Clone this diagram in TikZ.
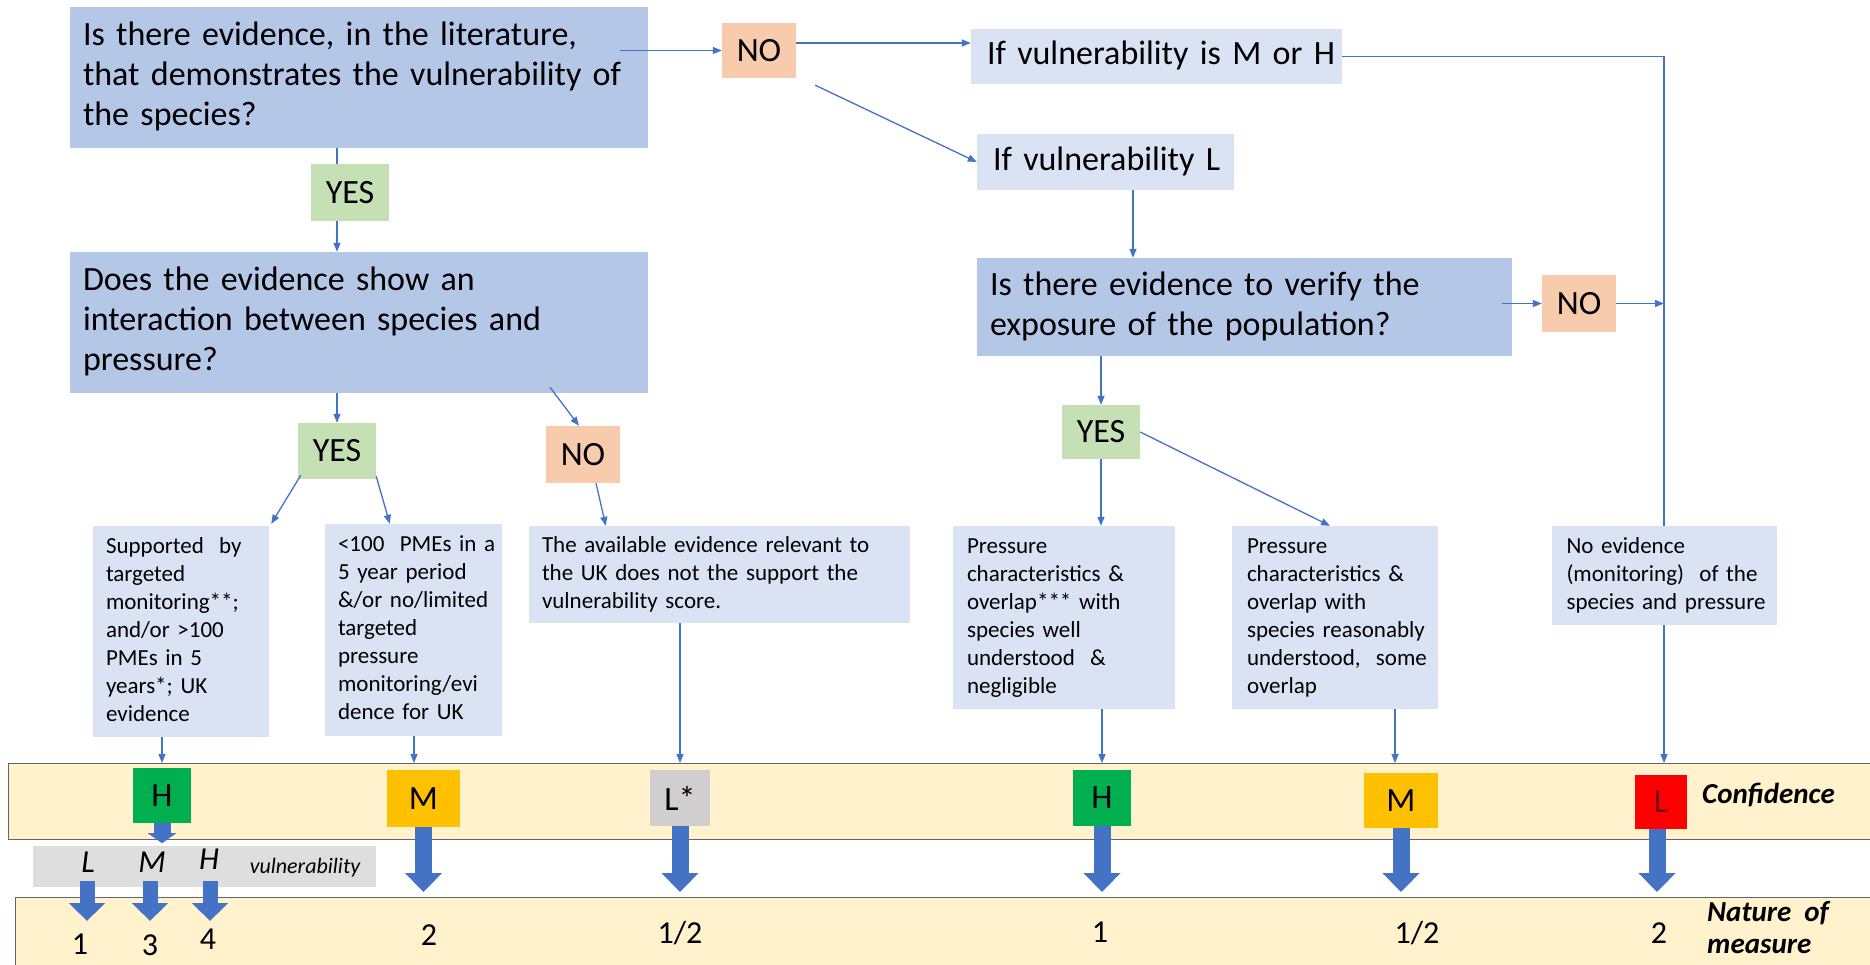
\documentclass[tikz,border=0pt]{standalone}
\usepackage{fontspec}
\setmainfont{Carlito}
\usetikzlibrary{arrows.meta,calc}
\definecolor{qblue}{HTML}{B4C7E7}
\definecolor{lblue}{HTML}{DAE3F3}
\definecolor{yesg}{HTML}{C5E0B4}
\definecolor{noo}{HTML}{F8CBAD}
\definecolor{lnc}{HTML}{4472C4}
\definecolor{bandc}{HTML}{FFF2CC}
\definecolor{bandb}{HTML}{5B6573}
\definecolor{hg}{HTML}{00B050}
\definecolor{myel}{HTML}{FFC000}
\definecolor{lr}{HTML}{FF0000}
\definecolor{ltxt}{HTML}{7A0A0A}
\definecolor{lsg}{HTML}{D0CECE}
\definecolor{vg}{HTML}{DEDEDE}
\newcommand{\bigtxt}{\fontsize{34}{40}\selectfont}
\newcommand{\smtxt}{\fontsize{23}{28}\selectfont}
\newcommand{\mylines}[1]{\begin{tabular}{@{}l@{}}#1\end{tabular}}
\begin{document}
\begin{tikzpicture}[x=1pt,y=-1pt,
  conn/.style={draw=lnc, line width=1.3pt, -{Triangle[length=9pt,width=7pt]}},
  plain/.style={draw=lnc, line width=1.3pt},
  qbox/.style={fill=qblue, inner xsep=13pt, inner ysep=0pt, align=left, font=\bigtxt},
  ibox/.style={fill=lblue, inner xsep=13pt, inner ysep=0pt, align=left, font=\smtxt},
  yesbox/.style={fill=yesg, inner sep=0pt, font=\bigtxt, minimum width=78pt, minimum height=56pt},
  nobox/.style={fill=noo, inner sep=0pt, font=\bigtxt, minimum width=74pt, minimum height=56pt},
  lvl/.style={inner sep=0pt, font=\bigtxt, minimum height=56pt},
  band/.style={fill=bandc, draw=bandb, line width=1.3pt, inner sep=0pt, anchor=north west},
  blk/.style={draw=lnc, line width=17pt, -{Triangle[length=19pt,width=36pt]}},
  blkS/.style={draw=lnc, line width=17pt, -{Triangle[length=10pt,width=28pt]}},
  blkV/.style={draw=lnc, line width=15pt, -{Triangle[length=18pt,width=35pt]}},
  num/.style={font=\fontsize{32}{38}\selectfont, inner sep=0pt},
  vlet/.style={font=\fontsize{32}{38}\selectfont\itshape, inner sep=0pt},
  lbl/.style={font=\fontsize{29}{34}\selectfont\bfseries\itshape, inner sep=0pt, anchor=west},
]
\useasboundingbox (0,0) rectangle (1870,964);
\fill[white] (0,0) rectangle (1870,964);

% bands
\node[band, minimum width=1880pt, minimum height=76pt] (conf) at (8,763) {};
\node[band, minimum width=1880pt, minimum height=80pt] (nat) at (15,897) {};
\node[fill=vg, minimum width=343pt, minimum height=41pt, inner sep=0pt, anchor=north west] (vuln) at (33,846) {};

% question boxes
\node[qbox, minimum width=578pt, minimum height=141pt, text width=552pt] (box1) at (359,77.5)
  {\mylines{Is there evidence, in the literature,\\that demonstrates the vulnerability of\\the species?}};
\node[qbox, minimum width=578pt, minimum height=141pt, text width=552pt] (box2) at (359,322.5)
  {\mylines{Does the evidence show an\\interaction between species and\\pressure?}};
\node[qbox, minimum width=535pt, minimum height=98pt, text width=509pt] (q3) at (1244.5,307)
  {\mylines{Is there evidence to verify the\\exposure of the population?}};
\node[ibox, font=\bigtxt, inner xsep=16pt, minimum width=371pt, minimum height=55pt, text width=339pt] (mh) at (1156.5,56.5)
  {\mylines{If vulnerability is M or H}};
\node[ibox, font=\bigtxt, inner xsep=16pt, minimum width=257pt, minimum height=56pt, text width=225pt] (lbox) at (1105.5,162)
  {\mylines{If vulnerability L}};

% yes / no
\node[nobox, minimum height=55pt] (no1) at (759,50.5) {NO};
\node[nobox, minimum height=57pt] (no2) at (1579,303.5) {NO};
\node[nobox, minimum height=57pt] (no3) at (583,454.5) {NO};
\node[yesbox, minimum height=57pt] (yes1) at (350,192.5) {YES};
\node[yesbox] (yes2) at (337,451) {YES};
\node[yesbox, minimum height=54pt] (yes3) at (1101,432) {YES};

% info boxes
\node[ibox, minimum width=176pt, minimum height=211pt, text width=150pt] (boxA) at (181,631.5)
  {\mylines{Supported\ \ by\\targeted\\monitoring**;\\and/or >100\\PMEs in 5\\years*; UK\\evidence}};
\node[ibox, minimum width=177pt, minimum height=212pt, text width=151pt] (boxB) at (413.5,630)
  {\mylines{<100\ \ PMEs in a\\5 year period\\\&/or no/limited\\targeted\\pressure\\monitoring/evi\\dence for UK}};
\node[ibox, minimum width=381pt, minimum height=97pt, text width=355pt] (boxC) at (719.5,574.5)
  {\mylines{The available evidence relevant to\\the UK does not the support the\\vulnerability score.}};
\node[ibox, inner xsep=14pt, minimum width=222pt, minimum height=183pt, text width=194pt] (boxE) at (1064,617.5)
  {\mylines{Pressure\\characteristics \&\\overlap*** with\\species well\\understood\ \ \&\\negligible}};
\node[ibox, inner xsep=15pt, minimum width=206pt, minimum height=183pt, text width=176pt] (boxF) at (1335,617.5)
  {\mylines{Pressure\\characteristics \&\\overlap with\\species reasonably\\understood,\ \ some\\overlap}};
\node[ibox, inner xsep=15pt, minimum width=225pt, minimum height=99pt, text width=195pt] (boxD) at (1664,575.5)
  {\mylines{No evidence\\(monitoring)\ \ of the\\species and pressure}};

% confidence levels
\node[lvl, fill=hg, minimum width=58pt, minimum height=55pt] (h1) at (162,795.5) {H};
\node[lvl, fill=myel, minimum width=73pt, minimum height=57pt] (m1) at (423.5,798.5) {M};
\node[lvl, fill=lsg, minimum width=60pt] (ls) at (680,798) {L*};
\node[lvl, fill=hg, minimum width=58pt] (h2) at (1102,798) {H};
\node[lvl, fill=myel, minimum width=74pt, minimum height=55pt] (m2) at (1401,800.5) {M};
\node[lvl, fill=lr, minimum width=52pt, minimum height=54pt, text=ltxt, text depth=-4pt] (l2) at (1661,802) {L};

\node[lbl] (conflbl) at (1702,795) {Confidence};
\node[lbl] (natlbl1) at (1707,913) {Nature\ \ of};
\node[lbl] (natlbl2) at (1707,946) {measure};

% vulnerability row
\node[vlet] (vL) at (88,862) {L};
\node[vlet] (vM) at (152,862) {M};
\node[vlet] (vH) at (209,859) {H};
\node[font=\fontsize{22}{26}\selectfont\itshape, inner sep=0pt] (vtxt) at (305,868) {vulnerability};

% numbers
\node[num] (n1) at (80,944) {1};
\node[num] (n3) at (150,945) {3};
\node[num] (n4) at (208,939) {4};
\node[num] (n2a) at (429,935) {2};
\node[num] (nh1) at (680,933) {1/2};
\node[num] (n1b) at (1100,932) {1};
\node[num] (nh2) at (1417,933) {1/2};
\node[num] (n2b) at (1659,933) {2};

% connectors
\coordinate (xY1) at (337,0);
\coordinate (xL) at (1133,0);
\coordinate (xF) at (1395,0);
\coordinate (xB) at (414,0);
\draw[plain] (box1.south -| xY1) -- (yes1.north -| xY1);
\draw[conn] (yes1.south -| xY1) -- (box2.north -| xY1);
\draw[conn] ($(box1.east |- no1.west)+(-28,0)$) -- (no1.west);
\draw[conn] ($(no1.east)+(0,-7.5)$) -- ($(mh.west)+(0,-13.5)$);
\draw[conn] ($(no1.south east)+(19,7)$) -- (lbox.west);
\draw[plain] (mh.east) -| (boxD.north);
\draw[conn] (lbox.south -| xL) -- (q3.north -| xL);
\draw[conn] ($(q3.east |- no2.west)+(-10,0)$) -- (no2.west);
\draw[conn] (no2.east) -- (no2.east -| boxD.north);
\draw[conn] (q3.south -| yes3.north) -- (yes3.north);
\draw[conn] (yes3.south) -- (yes3.south |- boxE.north);
\draw[conn] (yes3.east) -- ($(boxF.north)+(-5,0)$);
\draw[conn] (boxE.south -| h2.north) -- (h2.north |- conf.north);
\draw[conn] (boxF.south -| xF) -- (conf.north -| xF);
\draw[conn] (boxD.south) -- (boxD.south |- conf.north);
\draw[conn] (box2.south -| yes2.north) -- (yes2.north);
\draw[conn] ($(box2.south)+(191,-6)$) -- ($(no3.north)+(-4,0)$);
\draw[conn] ($(yes2.south west)+(3,-4)$) -- ($(boxA.north east)+(2,-2)$);
\draw[conn] ($(yes2.south east)+(0,-3)$) -- ($(boxB.north west)+(65,0)$);
\draw[conn] ($(no3.south)+(13,0)$) -- ($(boxC.north west)+(77,0)$);
\draw[conn] (boxA.south -| h1.north) -- (h1.north |- conf.north);
\draw[conn] (boxB.south -| xB) -- (conf.north -| xB);
\draw[conn] (boxC.south -| ls.north) -- (ls.north |- conf.north);

% block arrows
\coordinate (tipN) at (0,892);
\coordinate (tipV) at (0,921);
\draw[blkS] (h1.south) -- ($(h1.south)+(0,20)$);
\draw[blk] (m1.south) -- (m1.south |- tipN);
\draw[blk] (ls.south) -- (ls.south |- tipN);
\draw[blk] (h2.south) -- (h2.south |- tipN);
\draw[blk] (m2.south) -- (m2.south |- tipN);
\draw[blk] ($(l2.south)+(-4,0)$) -- ($(l2.south |- tipN)+(-4,0)$);
\draw[blkV] ($(vL |- vuln.south)+(-1,-6)$) -- ($(vL |- tipV)+(-1,0)$);
\draw[blkV] ($(vM |- vuln.south)+(-2,-6)$) -- ($(vM |- tipV)+(-2,0)$);
\draw[blkV] ($(vH |- vuln.south)+(1,-6)$) -- ($(vH |- tipV)+(1,0)$);
\end{tikzpicture}
\end{document}
